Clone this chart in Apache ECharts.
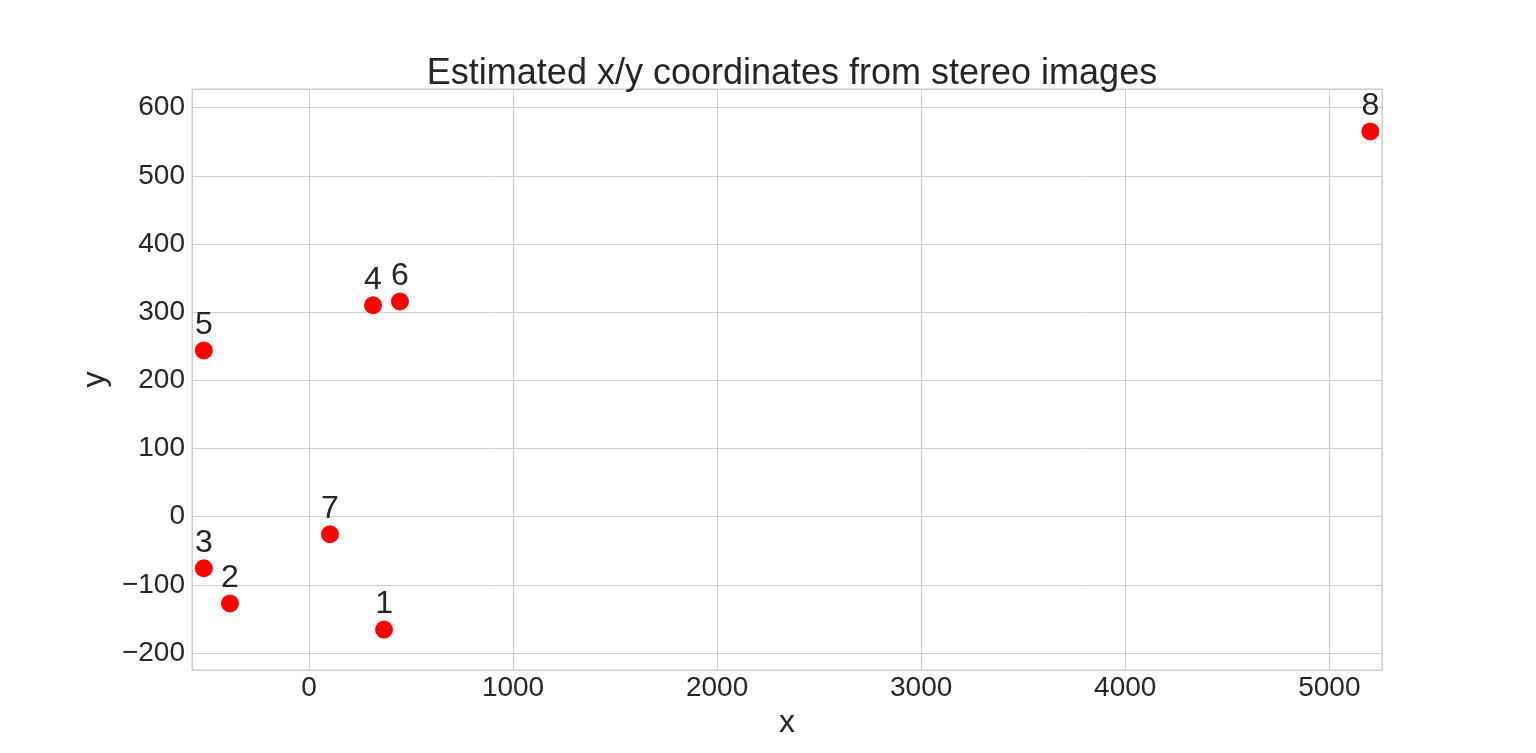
<!DOCTYPE html>
<html>
<head>
<meta charset="utf-8">
<script src="https://cdn.jsdelivr.net/npm/echarts@6/dist/echarts.min.js"></script>
<style>html,body{margin:0;padding:0;background:#fff}#c{width:1536px;height:753px}</style>
</head>
<body>
<div id="c"></div>
<script>
const pointLabels = ['1','2','3','4','5','6','7','8'];
const xValues = [368, -387, -515, 314, -515, 446, 103, 5201];
const yValues = [-165.7, -127.3, -75.7, 310.2, 243.9, 315.8, -25.8, 565.2];
const xRange = [-573, 5258];
const yRange = [-225, 627.5];
const titleText = 'Estimated x/y coordinates from stereo images';

const data = xValues.map((x, i) => ({ value: [x, yValues[i]], name: pointLabels[i] }));
const font = 'Liberation Sans, Arial, sans-serif';
const chart = echarts.init(document.getElementById('c'));
chart.setOption({
  backgroundColor: '#fff',
  animation: false,
  title: {
    text: titleText, left: 787, textAlign: 'center', top: 51,
    textStyle: { fontFamily: font, fontSize: 36, fontWeight: 'normal', color: '#262626' }
  },
  grid: { left: 192, right: 154, top: 89, bottom: 83, show: true, borderColor: '#cccccc', borderWidth: 1, containLabel: false },
  xAxis: {
    type: 'value', min: xRange[0], max: xRange[1], splitNumber: 6, minInterval: 1000, maxInterval: 1000,
    name: 'x', nameLocation: 'middle', nameGap: 36,
    nameTextStyle: { fontFamily: font, fontSize: 32, color: '#262626' },
    axisLine: { show: false }, axisTick: { show: false },
    axisLabel: { fontFamily: font, fontSize: 28, color: '#262626', margin: 4,
      showMinLabel: false, showMaxLabel: false,
      formatter: v => (Math.abs(v % 1000) < 1e-6 ? String(v) : '') },
    splitLine: { show: true, lineStyle: { color: '#cccccc', width: 1 } }
  },
  yAxis: {
    type: 'value', min: yRange[0], max: yRange[1], splitNumber: 8, minInterval: 100, maxInterval: 100,
    name: 'y', nameLocation: 'middle', nameGap: 77,
    nameTextStyle: { fontFamily: font, fontSize: 32, color: '#262626' },
    axisLine: { show: false }, axisTick: { show: false },
    axisLabel: { fontFamily: font, fontSize: 28, color: '#262626', margin: 7,
      showMinLabel: false, showMaxLabel: false,
      formatter: v => (Math.abs(v % 100) < 1e-6 ? String(v).replace('-', '\u2212') : '') },
    splitLine: { show: true, lineStyle: { color: '#cccccc', width: 1 } }
  },
  series: [{
    type: 'scatter', data: data, symbolSize: 18,
    itemStyle: { color: '#ff0000', opacity: 1 },
    label: { show: true, position: 'top', distance: 0, formatter: p => p.name,
      fontFamily: font, fontSize: 32, color: '#262626' }
  }]
});
</script>
</body>
</html>
